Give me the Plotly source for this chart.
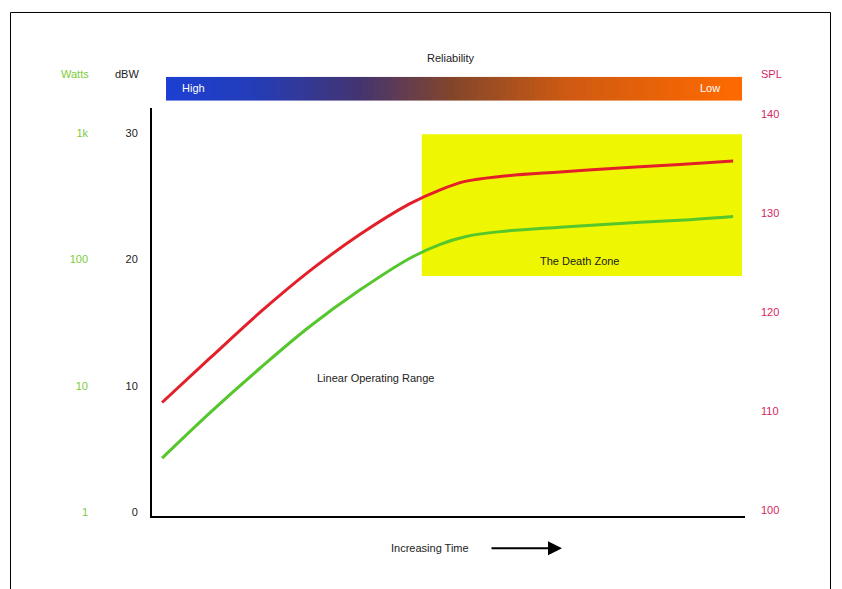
import plotly.graph_objects as go

W, H = 842, 589
OFF = 8  # page body margin in the browser

# ---- data ----
time_x = [1.7, 9.8, 18.2, 26.6, 35.1, 43.5, 48.6, 52.8, 58.7, 68.8, 78.9, 89.0, 98.0]
spl_red = [110.9, 115.4, 120.0, 124.2, 127.9, 131.0, 132.4, 133.25, 133.75, 134.2, 134.6, 134.95, 135.3]
dbw_green = [4.3, 7.9, 11.4, 14.7, 17.6, 20.1, 21.2, 21.8, 22.2, 22.55, 22.85, 23.1, 23.4]

dbw_ticks = [0, 10, 20, 30]
dbw_labels = ["0", "10", "20", "30"]
watt_ticks = [1, 10, 100, 1000]
watt_labels = ["1", "10", "100", "1k"]
spl_ticks = [100, 110, 120, 130, 140]
spl_labels = ["100", "110", "120", "130", "140"]

death_zone_x = [45.5, 99.5]
death_zone_dbw = [18.7, 29.9]

gradient_steps = list(range(100))

def px(x):
    return (x - OFF) / W

def py(y):
    return (H - (y - OFF)) / H

FONT = "Liberation Sans, Arial, sans-serif"
RED = "#e3202a"
GREEN = "#55c62c"
CRIMSON = "#d61f5c"

fig = go.Figure()

fig.add_trace(go.Scatter(x=time_x, y=dbw_green, mode="lines", line=dict(color=GREEN, width=3, shape="spline"),
                         xaxis="x", yaxis="y", hoverinfo="skip", showlegend=False))
fig.add_trace(go.Scatter(x=time_x, y=spl_red, mode="lines", line=dict(color=RED, width=3, shape="spline"),
                         xaxis="x", yaxis="y3", hoverinfo="skip", showlegend=False))
# invisible trace to activate the watts axis
fig.add_trace(go.Scatter(x=[None], y=[None], xaxis="x", yaxis="y2", showlegend=False, hoverinfo="skip"))

fig.add_trace(go.Heatmap(z=[gradient_steps], xaxis="x2", yaxis="y4", showscale=False, hoverinfo="skip",
                         colorscale=[[0, "#1c3fd2"], [0.15, "#243db8"], [0.33, "#423472"],
                                     [0.5, "#84462a"], [0.7, "#cf5a12"], [1, "#ff6a00"]]))

fig.add_shape(type="rect", xref="x", yref="y", x0=death_zone_x[0], x1=death_zone_x[1],
              y0=death_zone_dbw[0], y1=death_zone_dbw[1], fillcolor="#eef700", line=dict(width=0), layer="below")

# outer frame (left, top, right)
fig.add_shape(type="path", xref="paper", yref="paper",
              path=f"M {px(10.5)} {py(600)} L {px(10.5)} {py(12.5)} L {px(830.5)} {py(12.5)} L {px(830.5)} {py(600)}",
              line=dict(color="black", width=1))

ann = []
def text(x, y, s, color="#222", size=11, xanchor="center", **kw):
    ann.append(dict(x=px(x), y=py(y), xref="paper", yref="paper", text=s, showarrow=False,
                    font=dict(family=FONT, size=size, color=color), xanchor=xanchor, yanchor="middle", **kw))

text(451, 58, "Reliability", size=11, color="#222")
text(180, 88, "High", color="white", xanchor="left")
text(722, 88, "Low", color="white", xanchor="right")
text(75, 74, "Watts", color="#7ccc3c")
text(127, 74, "dBW", color="#222")
text(771, 74, "SPL", color=CRIMSON)
text(580, 262, "The Death Zone", color="#222")
text(375, 379, "Linear Operating Range", color="#222")
text(430, 550, "Increasing Time", color="#222")
ann.append(dict(x=px(562), y=py(550), xref="paper", yref="paper", ax=-72, ay=0,
                axref="pixel", ayref="pixel", showarrow=True, arrowhead=2, arrowsize=1.4,
                arrowwidth=2, arrowcolor="black", text=""))

fig.update_layout(
    width=W, height=H, margin=dict(l=0, r=0, t=0, b=0),
    paper_bgcolor="white", plot_bgcolor="rgba(0,0,0,0)",
    annotations=ann,
    xaxis=dict(domain=[px(152), px(745)], range=[0, 100], showticklabels=False, showgrid=False,
               zeroline=False, showline=True, linecolor="black", linewidth=2, ticks="", anchor="y"),
    yaxis=dict(domain=[py(518), py(108)], range=[-0.3, 32.0], tickvals=dbw_ticks, ticktext=dbw_labels,
               showgrid=False, zeroline=False, showline=True, linecolor="black", linewidth=2, ticks="",
               ticklabelstandoff=10, tickfont=dict(family=FONT, size=11, color="#222"), anchor="x"),
    yaxis2=dict(overlaying="y", type="log", range=[-0.03, 3.2], tickvals=watt_ticks, ticktext=watt_labels,
                anchor="free", position=px(90), side="left", showgrid=False, zeroline=False, showline=False,
                ticks="", ticklabelstandoff=2, tickfont=dict(family=FONT, size=11, color="#7ccc3c")),
    yaxis3=dict(overlaying="y", range=[99.4, 140.7], tickvals=spl_ticks, ticktext=spl_labels,
                anchor="free", position=px(745), side="right", showgrid=False, zeroline=False, showline=False,
                ticks="", ticklabelstandoff=15, tickfont=dict(family=FONT, size=11, color=CRIMSON)),
    xaxis2=dict(domain=[px(166), px(742)], visible=False, anchor="y4"),
    yaxis4=dict(domain=[py(101), py(77)], visible=False, anchor="x2"),
)

fig.write_html("out.html")
